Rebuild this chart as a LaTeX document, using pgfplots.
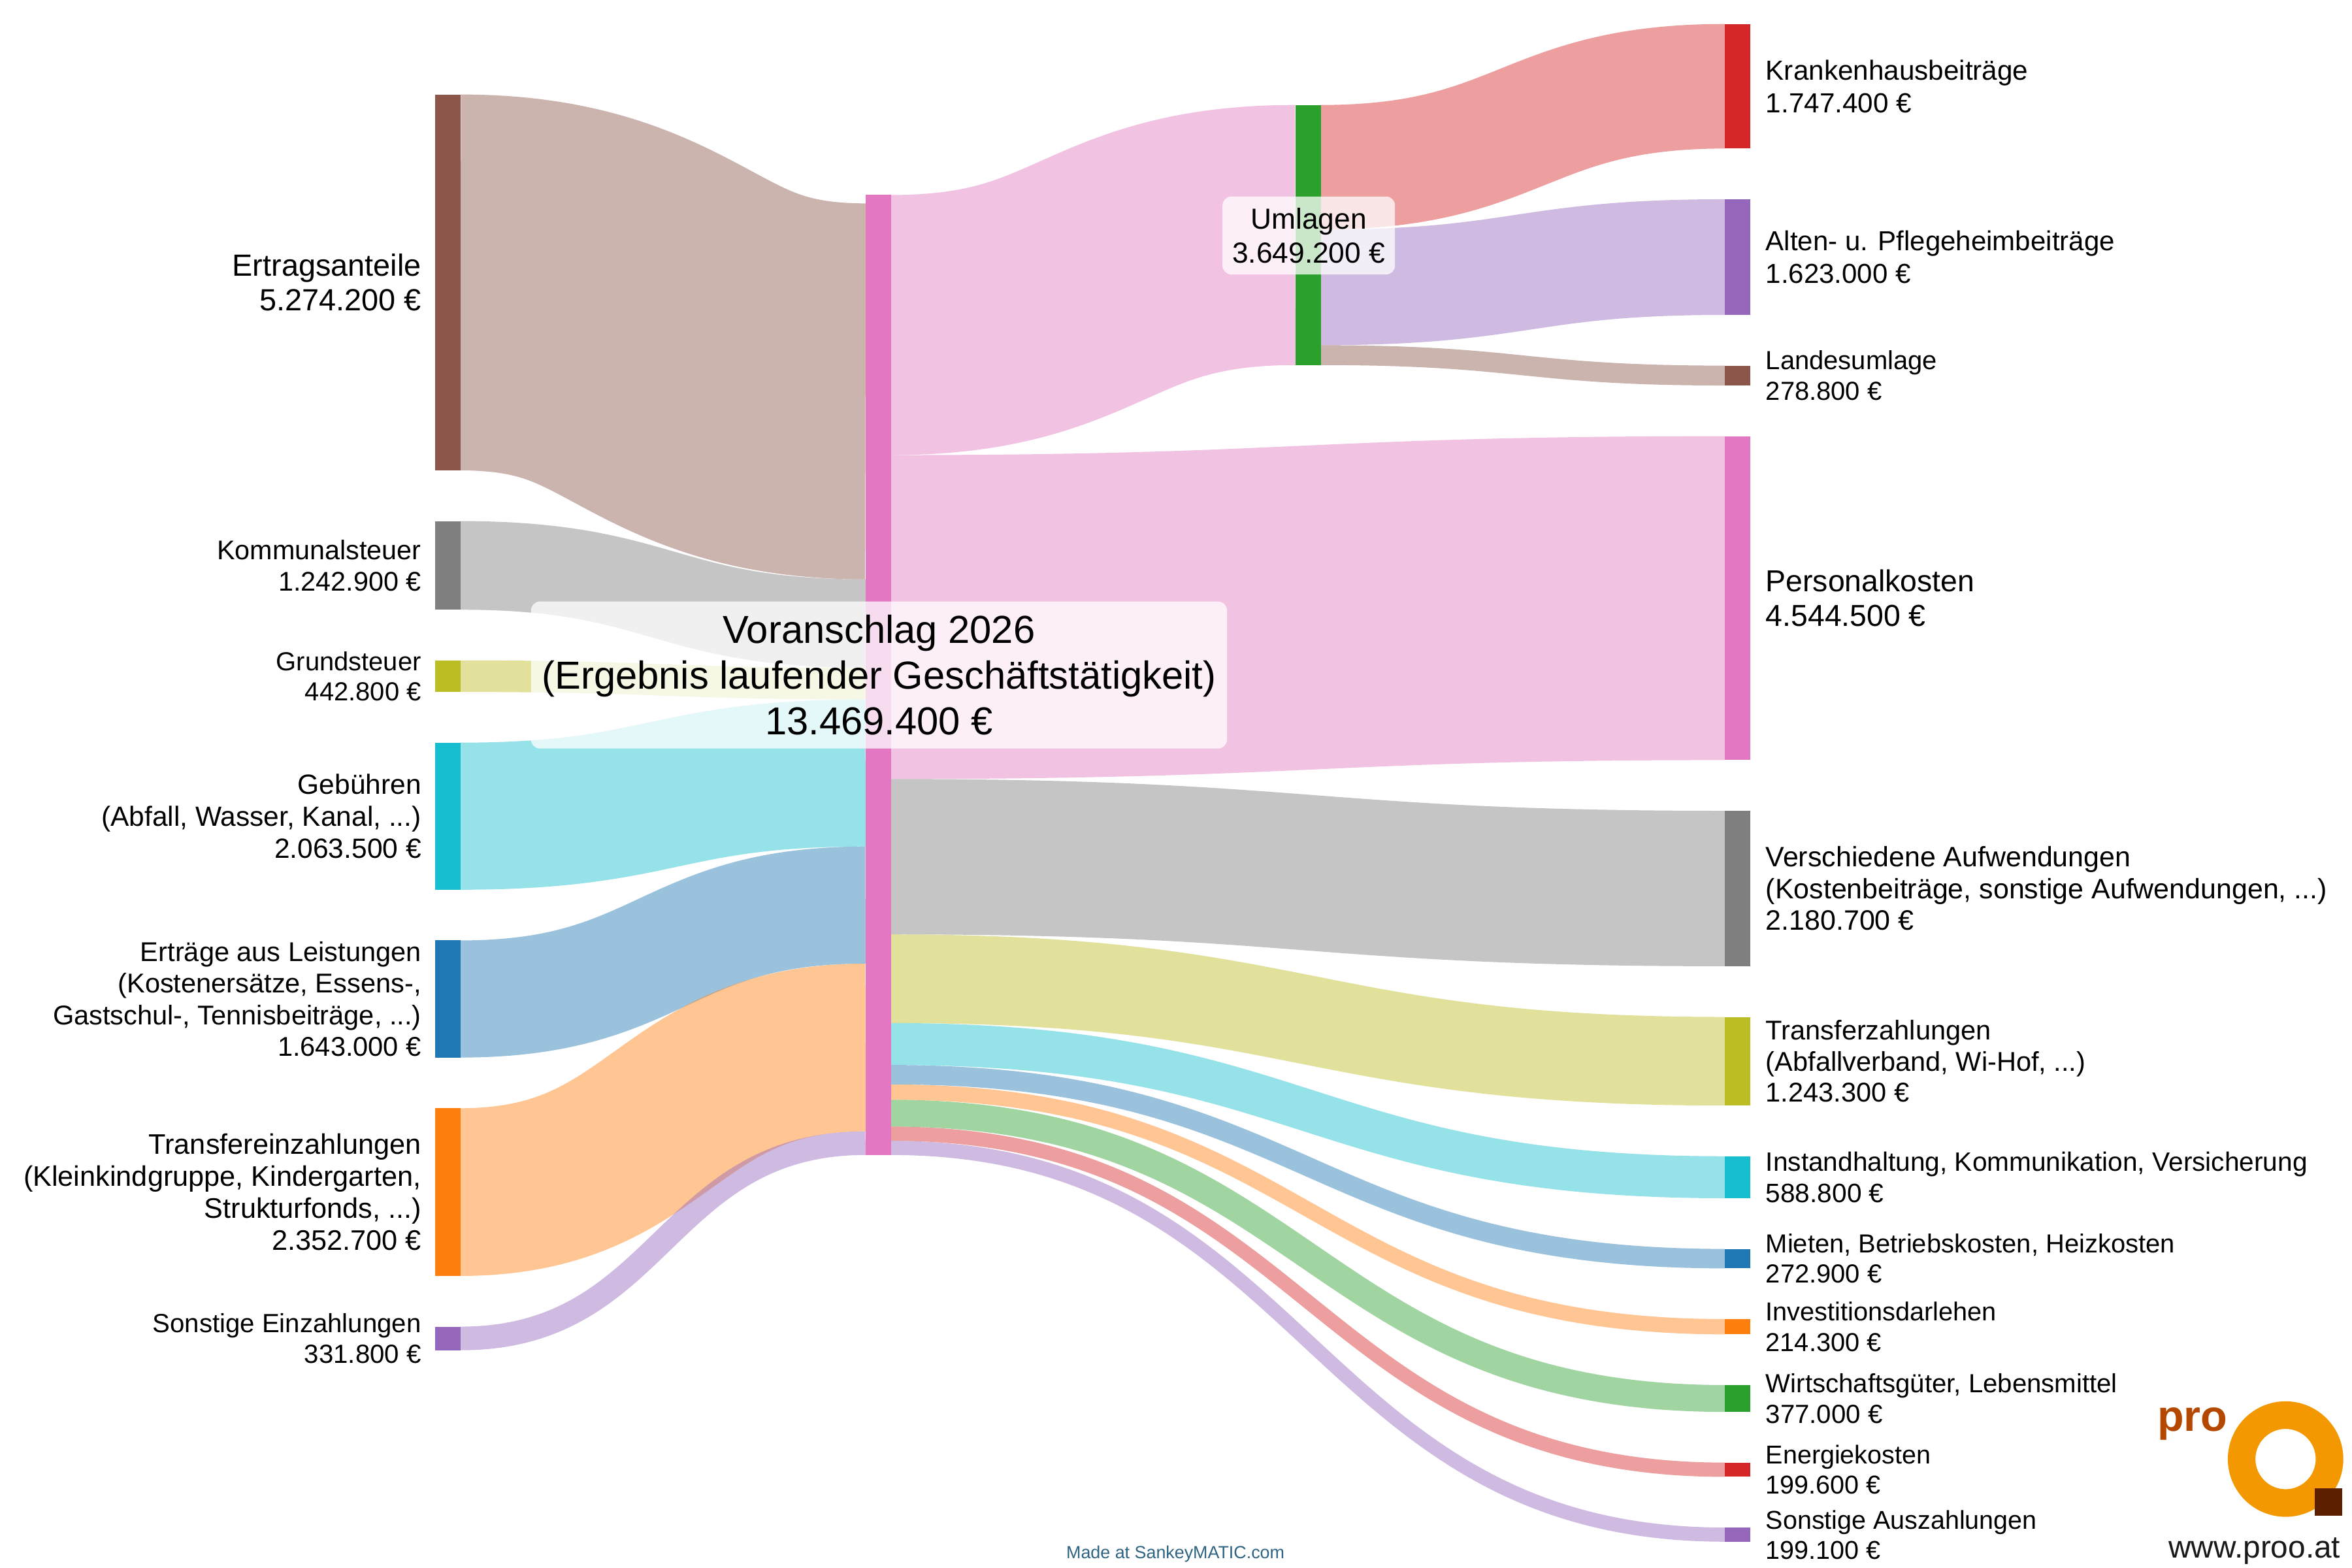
\documentclass[border=0pt]{standalone}
\usepackage{fontspec}
\setmainfont{Liberation Sans}
\usepackage{pgfplots}
\pgfplotsset{compat=1.18}

\definecolor{cBlue}{HTML}{1F77B4}
\definecolor{cOrange}{HTML}{FF7F0E}
\definecolor{cGreen}{HTML}{2CA02C}
\definecolor{cRed}{HTML}{D62728}
\definecolor{cPurple}{HTML}{9467BD}
\definecolor{cBrown}{HTML}{8C564B}
\definecolor{cPink}{HTML}{E377C2}
\definecolor{cGray}{HTML}{7F7F7F}
\definecolor{cOlive}{HTML}{BCBD22}
\definecolor{cCyan}{HTML}{17BECF}
\definecolor{cRing}{HTML}{F39800}
\definecolor{cSq}{HTML}{5C2000}
\definecolor{cPro}{HTML}{B44800}
\definecolor{cMade}{HTML}{2F6482}

% scale: picture units per 1000 EUR (13469.4 kEUR -> 640 units)
\def\S{0.0475151}

% node bar: colour, left x, top y, value (kEUR)
\newcommand\nbar[4]{%
  \pgfmathsetmacro\nbB{#3+#4*\S}%
  \pgfmathsetmacro\nbR{#2+17}%
  \edef\sankeytmp{\noexpand\addplot[fill=#1, draw=none] coordinates {(#2,#3) (\nbR,#3) (\nbR,\nbB) (#2,\nbB)} -- cycle;}%
  \sankeytmp}

% flow: colour, x0, x1, top at source, top at target, value (kEUR)
\newcommand\flow[6]{%
  \pgfmathsetmacro\fw{#6*\S}%
  \pgfmathsetmacro\fa{#4+0.5*\fw}%
  \pgfmathsetmacro\fb{#5+0.5*\fw}%
  \pgfmathsetmacro\fm{0.5*(#2+#3)}%
  \edef\sankeytmp{\noexpand\addplot[draw=#1, draw opacity=0.45, line width=\fw pt] coordinates {(#2,\fa)} .. controls (\fm,\fa) and (\fm,\fb) .. (#3,\fb);}%
  \sankeytmp}

\newcommand\llab[4]{\node[anchor=east, inner sep=0pt, align=right, font=\fontsize{#2}{#3}\selectfont] at (281,#1) {#4};}
\newcommand\rlab[4]{\node[anchor=west, inner sep=0pt, align=left, font=\fontsize{#2}{#3}\selectfont] at (1177,#1) {#4};}

\begin{document}
\begin{tikzpicture}
\begin{axis}[
  scale only axis, width=1568pt, height=1045.33pt,
  xmin=0, xmax=1568, ymin=0, ymax=1045.33, y dir=reverse,
  hide axis, clip=false]

% ---- flows: sources -> Voranschlag
\flow{cBrown}{307}{577}{63}{135.60}{5274.2}
\flow{cGray}{307}{577}{347.40}{386.20}{1242.9}
\flow{cOlive}{307}{577}{440.26}{445.26}{442.8}
\flow{cCyan}{307}{577}{495.10}{466.30}{2063.5}
\flow{cBlue}{307}{577}{626.95}{564.35}{1643.0}
\flow{cOrange}{307}{577}{738.82}{642.42}{2352.7}
\flow{cPurple}{307}{577}{884.41}{754.21}{331.8}
% ---- Voranschlag -> Umlagen
\flow{cPink}{594}{863.5}{130}{70}{3649.2}
% ---- Voranschlag -> outputs
\flow{cPink}{594}{1150}{303.39}{290.80}{4544.5}
\flow{cGray}{594}{1150}{519.32}{540.53}{2180.7}
\flow{cOlive}{594}{1150}{622.94}{677.95}{1243.3}
\flow{cCyan}{594}{1150}{682.02}{770.83}{588.8}
\flow{cBlue}{594}{1150}{710.00}{832.61}{272.9}
\flow{cOrange}{594}{1150}{722.97}{879.38}{214.3}
\flow{cGreen}{594}{1150}{733.15}{923.36}{377.0}
\flow{cRed}{594}{1150}{751.06}{975.07}{199.6}
\flow{cPurple}{594}{1150}{760.54}{1018.35}{199.1}
% ---- Umlagen -> outputs
\flow{cRed}{880.5}{1150}{70}{16}{1747.4}
\flow{cPurple}{880.5}{1150}{153.03}{132.83}{1623.0}
\flow{cBrown}{880.5}{1150}{230.15}{243.75}{278.8}

% ---- node bars
\nbar{cBrown}{290}{63}{5274.2}
\nbar{cGray}{290}{347.40}{1242.9}
\nbar{cOlive}{290}{440.26}{442.8}
\nbar{cCyan}{290}{495.10}{2063.5}
\nbar{cBlue}{290}{626.95}{1643.0}
\nbar{cOrange}{290}{738.82}{2352.7}
\nbar{cPurple}{290}{884.41}{331.8}
\nbar{cPink}{577}{130}{13469.4}
\nbar{cGreen}{863.5}{70}{3649.2}
\nbar{cRed}{1150}{16}{1747.4}
\nbar{cPurple}{1150}{132.83}{1623.0}
\nbar{cBrown}{1150}{243.75}{278.8}
\nbar{cPink}{1150}{290.80}{4544.5}
\nbar{cGray}{1150}{540.53}{2180.7}
\nbar{cOlive}{1150}{677.95}{1243.3}
\nbar{cCyan}{1150}{770.83}{588.8}
\nbar{cBlue}{1150}{832.61}{272.9}
\nbar{cOrange}{1150}{879.38}{214.3}
\nbar{cGreen}{1150}{923.36}{377.0}
\nbar{cRed}{1150}{975.07}{199.6}
\nbar{cPurple}{1150}{1018.35}{199.1}

% ---- left labels
\llab{188.30}{20.4}{23.2}{Ertragsanteile\\5.274.200 €}
\llab{376.93}{18.0}{20.8}{Kommunalsteuer\\1.242.900 €}
\llab{450.78}{17.4}{20.2}{Grundsteuer\\442.800 €}
\llab{544.13}{18.5}{21.2}{Gebühren\\(Abfall, Wasser, Kanal, ...)\\2.063.500 €}
\llab{665.99}{18.1}{21.0}{Erträge aus Leistungen\\(Kostenersätze, Essens-,\\Gastschul-, Tennisbeiträge, ...)\\1.643.000 €}
\llab{794.72}{18.85}{21.3}{Transfereinzahlungen\\(Kleinkindgruppe, Kindergarten,\\Strukturfonds, ...)\\2.352.700 €}
\llab{892.29}{17.5}{20.2}{Sonstige Einzahlungen\\331.800 €}

% ---- right labels
\rlab{57.52}{18.4}{21.8}{Krankenhausbeiträge\\1.747.400 €}
\rlab{171.39}{18.3}{21.5}{Alten- u. Pflegeheimbeiträge\\1.623.000 €}
\rlab{250.38}{17.4}{20.2}{Landesumlage\\278.800 €}
\rlab{398.77}{20.2}{23.0}{Personalkosten\\4.544.500 €}
\rlab{592.34}{18.7}{21.2}{Verschiedene Aufwendungen\\(Kostenbeiträge, sonstige Aufwendungen, ...)\\2.180.700 €}
\rlab{707.49}{18.1}{20.8}{Transferzahlungen\\(Abfallverband, Wi-Hof, ...)\\1.243.300 €}
\rlab{784.82}{17.7}{20.6}{Instandhaltung, Kommunikation, Versicherung\\588.800 €}
\rlab{839.10}{17.4}{20.2}{Mieten, Betriebskosten, Heizkosten\\272.900 €}
\rlab{884.47}{17.3}{20.2}{Investitionsdarlehen\\214.300 €}
\rlab{932.32}{17.5}{20.2}{Wirtschaftsgüter, Lebensmittel\\377.000 €}
\rlab{979.81}{17.2}{20.0}{Energiekosten\\199.600 €}
\rlab{1023.08}{17.2}{20.0}{Sonstige Auszahlungen\\199.100 €}

% ---- boxed labels
\node[fill=white, fill opacity=0.75, text opacity=1, rounded corners=6pt,
      minimum width=464pt, minimum height=98pt, inner sep=0pt, align=center,
      font=\fontsize{26}{30.5}\selectfont] at (586,450)
      {Voranschlag 2026\\(Ergebnis laufender Geschäftstätigkeit)\\13.469.400 €};
\node[fill=white, fill opacity=0.75, text opacity=1, rounded corners=6pt,
      minimum width=115pt, minimum height=52pt, inner sep=0pt, align=center,
      font=\fontsize{19.3}{22.5}\selectfont] at (872.5,157)
      {Umlagen\\3.649.200 €};

% ---- footer and logo
\node[anchor=center, inner sep=0pt, text=cMade, font=\fontsize{11.7}{13}\selectfont] at (783.6,1036) {Made at SankeyMATIC.com};
\fill[cRing, even odd rule] (1523.7,972.7) circle[radius=38.5pt] circle[radius=20.1pt];
\fill[cSq] (1543,992.3) rectangle (1561.4,1010.5);
\node[anchor=base west, inner sep=0pt, text=cPro, font=\fontsize{29}{30}\selectfont\bfseries] at (1438,954) {pro};
\node[anchor=base, inner sep=0pt, text=black!90, font=\fontsize{20.8}{22}\selectfont] at (1503,1038.5) {www.proo.at};
\end{axis}
\pgfresetboundingbox
\useasboundingbox (current axis.south west) rectangle (current axis.north east);
\end{tikzpicture}
\end{document}
